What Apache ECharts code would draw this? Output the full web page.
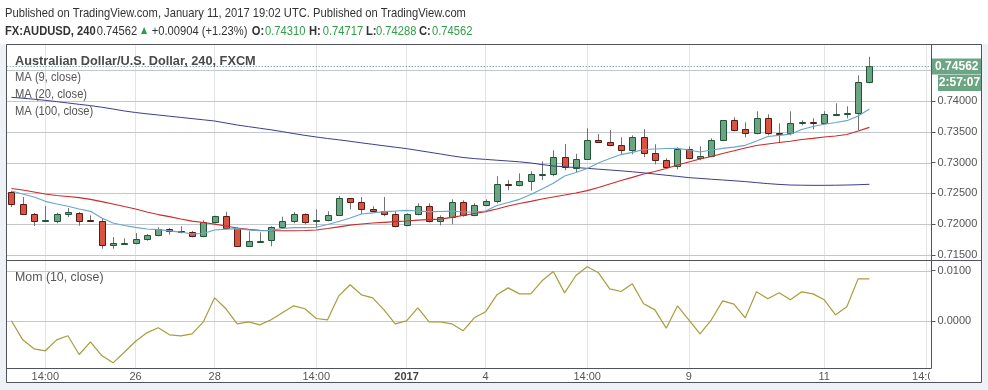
<!DOCTYPE html>
<html><head><meta charset="utf-8">
<script src="https://cdn.jsdelivr.net/npm/echarts@6/dist/echarts.min.js"></script>
<style>html,body{margin:0;padding:0;background:#fff;}#c{width:988px;height:390px;}</style>
</head><body><div id="c"></div>
<script>
// ---- data (4h candles, FX:AUDUSD) ----
const open = [0.72523,0.72328,0.72166,0.72055,0.72057,0.72166,0.72182,0.72063,0.72047,0.71657,
0.71687,0.71690,0.71755,0.71820,0.71917,0.71885,0.71868,0.71804,0.72031,0.72128,
0.71933,0.71641,0.71727,0.71739,0.71950,0.72047,0.72161,0.72052,0.72063,0.72144,
0.72420,0.72355,0.72242,0.72209,0.72161,0.71982,0.72161,0.72291,0.72047,0.72112,
0.72355,0.72144,0.72307,0.72372,0.72648,0.72631,0.72696,0.72810,0.72810,0.73086,
0.72907,0.73054,0.73362,0.73330,0.73281,0.73200,0.73411,0.73151,0.73037,0.72940,
0.73216,0.73070,0.73102,0.73372,0.73687,0.73541,0.73476,0.73719,0.73481,0.73476,
0.73638,0.73654,0.73638,0.73784,0.73795,0.73800,0.74310];
const high = [0.72539,0.72442,0.72182,0.72295,0.72187,0.72263,0.72198,0.72144,0.72101,0.71792,
0.71771,0.71857,0.71841,0.71950,0.71938,0.71966,0.71890,0.72063,0.72138,0.72203,
0.71950,0.71885,0.71868,0.71966,0.72122,0.72198,0.72177,0.72242,0.72209,0.72458,
0.72425,0.72442,0.72291,0.72442,0.72209,0.72177,0.72339,0.72339,0.72144,0.72404,
0.72388,0.72339,0.72404,0.72778,0.72713,0.72826,0.72859,0.73021,0.73200,0.73302,
0.73144,0.73557,0.73464,0.73529,0.73411,0.73443,0.73545,0.73297,0.73070,0.73248,
0.73265,0.73265,0.73394,0.73692,0.73735,0.73654,0.73833,0.73784,0.73638,0.73833,
0.73687,0.73719,0.73833,0.73963,0.73914,0.74417,0.74717];
const low = [0.72279,0.72149,0.71971,0.72047,0.72015,0.72117,0.71976,0.72047,0.71602,0.71602,
0.71674,0.71674,0.71732,0.71804,0.71830,0.71852,0.71787,0.71787,0.72015,0.71911,
0.71630,0.71630,0.71722,0.71641,0.71933,0.72015,0.71998,0.71933,0.72047,0.72133,
0.72242,0.72161,0.72193,0.72128,0.71950,0.71966,0.72144,0.72031,0.71982,0.71998,
0.72122,0.72128,0.72291,0.72339,0.72550,0.72615,0.72544,0.72718,0.72778,0.72875,
0.72843,0.73054,0.73330,0.73265,0.73135,0.73135,0.73086,0.72972,0.72907,0.72891,
0.73054,0.73037,0.73086,0.73362,0.73508,0.73411,0.73459,0.73443,0.73326,0.73443,
0.73606,0.73541,0.73622,0.73768,0.73719,0.73524,0.74288];
const close = [0.72328,0.72166,0.72052,0.72063,0.72166,0.72193,0.72057,0.72055,0.71657,0.71690,
0.71692,0.71755,0.71820,0.71917,0.71885,0.71873,0.71804,0.72031,0.72128,0.71933,
0.71641,0.71722,0.71735,0.71950,0.72047,0.72161,0.72041,0.72073,0.72144,0.72420,
0.72355,0.72242,0.72209,0.72161,0.71966,0.72161,0.72291,0.72047,0.72112,0.72355,
0.72144,0.72307,0.72377,0.72648,0.72631,0.72696,0.72815,0.72818,0.73086,0.72924,
0.73054,0.73362,0.73330,0.73281,0.73200,0.73411,0.73151,0.73037,0.72924,0.73216,
0.73070,0.73102,0.73362,0.73687,0.73524,0.73476,0.73719,0.73476,0.73472,0.73638,
0.73654,0.73638,0.73784,0.73797,0.73802,0.74305,0.74562];
const ma9 = [0.72539,0.72490,0.72442,0.72372,0.72328,0.72291,0.72247,0.72209,0.72101,0.72020,
0.71979,0.71950,0.71922,0.71911,0.71893,0.71873,0.71841,0.71849,0.71906,0.71919,
0.71927,0.71909,0.71894,0.71901,0.71930,0.71943,0.71946,0.71950,0.71995,0.72044,
0.72101,0.72166,0.72185,0.72203,0.72214,0.72226,0.72214,0.72205,0.72206,0.72214,
0.72198,0.72198,0.72214,0.72304,0.72352,0.72404,0.72482,0.72571,0.72664,0.72782,
0.72839,0.72904,0.72994,0.73067,0.73131,0.73167,0.73213,0.73221,0.73229,0.73232,
0.73205,0.73172,0.73205,0.73232,0.73250,0.73281,0.73351,0.73424,0.73443,0.73461,
0.73537,0.73586,0.73623,0.73651,0.73680,0.73757,0.73870];
const ma20 = [0.72580,0.72555,0.72523,0.72490,0.72466,0.72450,0.72433,0.72404,0.72368,0.72328,
0.72287,0.72247,0.72198,0.72157,0.72122,0.72084,0.72049,0.72028,0.72000,0.71971,
0.71938,0.71917,0.71901,0.71894,0.71894,0.71894,0.71898,0.71906,0.71930,0.71958,
0.71984,0.72003,0.72020,0.72031,0.72042,0.72052,0.72065,0.72076,0.72084,0.72112,
0.72141,0.72174,0.72203,0.72247,0.72295,0.72336,0.72372,0.72409,0.72442,0.72474,
0.72507,0.72544,0.72596,0.72653,0.72709,0.72761,0.72815,0.72856,0.72904,0.72961,
0.73010,0.73058,0.73099,0.73148,0.73192,0.73237,0.73278,0.73302,0.73326,0.73347,
0.73375,0.73394,0.73416,0.73432,0.73456,0.73513,0.73573];
const ma100 = [0.74060,0.74045,0.74029,0.74011,0.73990,0.73968,0.73946,0.73925,0.73899,0.73870,
0.73838,0.73813,0.73792,0.73773,0.73753,0.73734,0.73714,0.73695,0.73675,0.73643,
0.73610,0.73584,0.73558,0.73532,0.73503,0.73471,0.73442,0.73416,0.73391,0.73370,
0.73346,0.73321,0.73297,0.73273,0.73250,0.73227,0.73198,0.73169,0.73140,0.73110,
0.73083,0.73065,0.73052,0.73039,0.73026,0.73013,0.72994,0.72968,0.72945,0.72932,
0.72920,0.72907,0.72893,0.72880,0.72867,0.72851,0.72834,0.72815,0.72795,0.72776,
0.72756,0.72744,0.72730,0.72718,0.72705,0.72692,0.72675,0.72659,0.72646,0.72636,
0.72633,0.72631,0.72631,0.72633,0.72636,0.72641,0.72648];
const mom = [0.00000,-0.00378,-0.00557,-0.00596,-0.00378,-0.00298,-0.00670,-0.00417,-0.00690,-0.00835,
-0.00624,-0.00406,-0.00239,-0.00139,-0.00278,-0.00298,-0.00258,-0.00020,0.00457,0.00239,
-0.00060,-0.00020,-0.00080,0.00020,0.00159,0.00298,0.00239,0.00046,0.00020,0.00497,
0.00716,0.00517,0.00457,0.00219,-0.00060,0.00000,0.00258,-0.00020,-0.00020,-0.00060,
-0.00199,0.00060,0.00179,0.00517,0.00655,0.00536,0.00536,0.00795,0.00980,0.00556,
0.00900,0.01073,0.00954,0.00636,0.00583,0.00735,0.00338,0.00218,-0.00146,0.00298,
0.00020,-0.00258,0.00020,0.00397,0.00331,0.00060,0.00576,0.00437,0.00556,0.00417,
0.00576,0.00536,0.00417,0.00119,0.00278,0.00834,0.00834];
// axis ticks
const xTickIndex = [3, 11, 18, 27, 35, 42, 51, 60, 72, 81];
const xTickText  = ['14:00','26','28','14:00','2017','4','14:00','9','11','14:00'];
const priceGrid   = [0.715, 0.72, 0.725, 0.73, 0.735, 0.74, 0.745];
const priceLabels = [0.715, 0.72, 0.725, 0.73, 0.735, 0.74];
const momTicks    = [0, 0.01];
const headerLine1 = 'Published on TradingView.com, January 11, 2017 19:02 UTC. Published on TradingView.com';
const symbolText = 'FX:AUDUSD, 240';
const changeText = '+0.00904 (+1.23%)';
const paneTitle = 'Australian Dollar/U.S. Dollar, 240, FXCM';
const timerText = '2:57:07';

// ---- chart ----
const chart = echarts.init(document.getElementById('c'), null, {renderer:'canvas'});
const idx = close.map((_, i) => i);
const last = close.length - 1;
const FONT = 'Liberation Sans';
const GRID_C = '#e2e4e7';
const HGRID_C = '#c4c8cd';
const FRAME = '#50535b';
const TAG = '#6ba583';
const SX = 0.86;

function t(x, y, text, opt) {
  opt = opt || {};
  return {type:'text', x:x, y:y, scaleX: opt.sx || SX, z:100, silent:true,
    style:{x:0, y:0, text:text, fontSize: opt.size || 13, fontFamily: FONT,
      fontWeight: opt.bold ? 'bold' : 'normal', fill: opt.color || '#333',
      verticalAlign:'middle', align: opt.align || 'left'}};
}
function ln(x1, y1, x2, y2) {
  return {type:'line', z:100, silent:true, shape:{x1:x1,y1:y1,x2:x2,y2:y2}, style:{stroke:FRAME, lineWidth:1}};
}
function rc(x, y, w, h, fill) {
  return {type:'rect', z:99, silent:true, shape:{x:x,y:y,width:w,height:h}, style:{fill:fill}};
}
// horizontal grid lines for a list of values, positioned through the series' y scale
function gridLines(params, api, vals) {
  const cs = params.coordSys;
  return vals.map(v => {
    const y = Math.round(api.coord([0, v])[1]) + 0.5;
    return {type:'line', shape:{x1:cs.x, y1:y, x2:cs.x + cs.width, y2:y},
      style:{stroke:HGRID_C, lineWidth:1, lineDash:null}};
  });
}

const xBase = {type:'value', min:-0.42, max:81.5, axisLine:{show:false, onZero:false},
  axisTick:{show:false, customValues:xTickIndex},
  splitLine:{show:true, lineStyle:{color:GRID_C, width:1}}};

const option = {
  animation:false,
  backgroundColor:'#ffffff',
  grid:[
    {left:6.7, right:56.5, top:44.7, height:215.3},
    {left:6.7, right:56.5, top:260.5, bottom:21.5}
  ],
  xAxis:[
    Object.assign({}, xBase, {gridIndex:0, axisLabel:{show:false}}),
    Object.assign({}, xBase, {gridIndex:1, axisLabel:{show:true, customValues:xTickIndex, margin:3,
      color:'#555', fontSize:11, fontFamily:FONT,
      formatter: v => { const k = xTickIndex.indexOf(Math.round(v)); const s = xTickText[k] || '';
        return s === '2017' ? '{b|2017}' : s; },
      rich:{b:{fontWeight:'bold', fontSize:11, color:'#444', fontFamily:FONT}}}})
  ],
  yAxis:[
    {type:'value', gridIndex:0, position:'right', min:0.71419, max:0.74914, scale:true,
      axisLine:{show:false, onZero:false},
      axisTick:{show:true, customValues:priceGrid, length:4, lineStyle:{color:'#555'}},
      axisLabel:{customValues:priceLabels, formatter:v => v.toFixed(5), color:'#555', fontSize:11, fontFamily:FONT, margin:6},
      splitLine:{show:false}},
    {type:'value', gridIndex:1, position:'right', min:-0.00948, max:0.01199,
      axisLine:{show:false, onZero:false},
      axisTick:{show:true, customValues:momTicks, length:4, lineStyle:{color:'#555'}},
      axisLabel:{customValues:momTicks, formatter:v => v.toFixed(4), color:'#555', fontSize:11, fontFamily:FONT, margin:6},
      splitLine:{show:false}}
  ],
  series:[
    // price-pane horizontal grid (same mechanism as the visible last-price line)
    {type:'custom', name:'gridP', xAxisIndex:0, yAxisIndex:0, z:2, silent:true, clip:false,
      data: [[last, priceGrid[0]]], encode:{x:0, y:1},
      renderItem:(params, api) => ({type:'group', children: gridLines(params, api, priceGrid)})},
    {type:'custom', name:'AUDUSD', xAxisIndex:0, yAxisIndex:0, z:3, silent:true,
      data: idx.map(i => [i, open[i], close[i], low[i], high[i]]),
      encode:{x:0, y:[1,2,3,4]},
      renderItem:(params, api) => {
        const i = api.value(0), o = api.value(1), c = api.value(2), l = api.value(3), h = api.value(4);
        const pO = api.coord([i, o]), pC = api.coord([i, c]), pH = api.coord([i, h]), pL = api.coord([i, l]);
        const up = c >= o;
        const x = Math.round(pO[0]) + 0.5;
        const top = Math.round(Math.min(pO[1], pC[1])) + 0.5;
        let bot = Math.round(Math.max(pO[1], pC[1])) + 0.5;
        if (bot - top < 1) bot = top + 1;
        return {type:'group', children:[
          {type:'line', shape:{x1:x, y1:pH[1], x2:x, y2:pL[1]}, style:{stroke:'#737375', lineWidth:1}},
          {type:'rect', shape:{x:x-3, y:top, width:6, height:bot-top},
            style:{fill: up ? '#6ba583' : '#d75442', stroke: up ? '#225437' : '#5b1a13', lineWidth:1}}
        ]};
      }
    },
    {type:'line', name:'MA100', xAxisIndex:0, yAxisIndex:0, z:4, silent:true, showSymbol:false, symbol:'none',
      data: idx.map(i => [i, ma100[i]]), lineStyle:{color:'#3e3d8c', width:1}},
    {type:'line', name:'MA20', xAxisIndex:0, yAxisIndex:0, z:4, silent:true, showSymbol:false, symbol:'none',
      data: idx.map(i => [i, ma20[i]]), lineStyle:{color:'#cf2a2a', width:1.2}},
    {type:'line', name:'MA9', xAxisIndex:0, yAxisIndex:0, z:4, silent:true, showSymbol:false, symbol:'none',
      data: idx.map(i => [i, ma9[i]]), lineStyle:{color:'#69a6c8', width:1.2}},
    {type:'custom', name:'gridM', xAxisIndex:1, yAxisIndex:1, z:4, silent:true, clip:false,
      data: [[last, momTicks[0]]], encode:{x:0, y:1},
      renderItem:(params, api) => ({type:'group', children: gridLines(params, api, momTicks)})},
    {type:'line', name:'Mom', xAxisIndex:1, yAxisIndex:1, z:4, silent:true, showSymbol:false, symbol:'none',
      data: idx.map(i => [i, mom[i]]), lineStyle:{color:'#a59f3c', width:1.2}},
    {type:'custom', name:'lastPrice', xAxisIndex:0, yAxisIndex:0, z:6, silent:true, clip:false,
      data: [[last, close[last]]], encode:{x:0, y:1},
      renderItem:(params, api) => {
        const cs = params.coordSys;
        const v = api.value(1);
        const y = Math.round(api.coord([api.value(0), v])[1]) + 0.5;
        const xr = cs.x + cs.width;
        return {type:'group', children:[
          {type:'line', shape:{x1:cs.x, y1:y, x2:xr, y2:y}, style:{stroke:'#4f8b7c', lineWidth:1, lineDash:[1,2]}},
          {type:'rect', shape:{x:xr + 0.5, y:y - 8, width:49.5, height:16}, style:{fill:TAG}},
          {type:'text', x:xr + 25.3, y:y, style:{text:v.toFixed(5), fill:'#fff', fontSize:12, fontWeight:'bold',
            fontFamily:FONT, align:'center', verticalAlign:'middle'}}
        ]};
      }}
  ],
  graphic:{elements:[
    rc(0, 44, 6.2, 346, '#eef1f5'),
    rc(982.2, 44, 5.8, 346, '#eef1f5'),
    rc(0, 382.6, 988, 7.4, '#eef1f5'),
    {type:'rect', z:98, silent:true, shape:{x:930, y:369, width:51.5, height:13}, style:{fill:'#fff'}},
    ln(6.5, 44.5, 981.5, 44.5),
    ln(6.5, 260.5, 981.5, 260.5),
    ln(6.5, 368.5, 931.5, 368.5),
    ln(6.5, 382.5, 981.5, 382.5),
    ln(6.5, 44.5, 6.5, 382.5),
    ln(981.5, 44.5, 981.5, 382.5),
    ln(931.5, 44.5, 931.5, 368.5),
    t(5, 13, headerLine1, {color:'#333'}),
    t(5, 31, symbolText, {bold:true, color:'#333'}),
    t(96.7, 31, close[last].toFixed(5), {color:'#333'}),
    t(139, 31, '\u25B2', {color:'#2f9e44', size:12}),
    t(151.7, 31, changeText, {color:'#333'}),
    t(251.7, 31, 'O:', {bold:true}), t(265, 31, open[last].toFixed(5), {color:'#2f9e44'}),
    t(309, 31, 'H:', {bold:true}), t(322.7, 31, high[last].toFixed(5), {color:'#2f9e44'}),
    t(366, 31, 'L:', {bold:true}), t(376, 31, low[last].toFixed(5), {color:'#2f9e44'}),
    t(419, 31, 'C:', {bold:true}), t(432, 31, close[last].toFixed(5), {color:'#2f9e44'}),
    t(15, 61.5, paneTitle, {bold:true, color:'#4a4a4a', sx:0.98}),
    t(15, 77.8, 'MA (9, close)', {color:'#555'}),
    t(15, 94.5, 'MA (20, close)', {color:'#555'}),
    t(15, 111.2, 'MA (100, close)', {color:'#555'}),
    t(15, 277.8, 'Mom (10, close)', {color:'#555', sx:0.95}),
    {type:'rect', z:100, silent:true, shape:{x:938, y:75, width:43, height:16}, style:{fill:TAG}},
    {type:'text', z:101, silent:true, x:959.5, y:83, style:{x:0, y:0, text:timerText, fontSize:12, fontWeight:'bold',
      fontFamily:FONT, fill:'#fff', align:'center', verticalAlign:'middle'}}
  ]}
};
chart.setOption(option);
</script></body></html>
